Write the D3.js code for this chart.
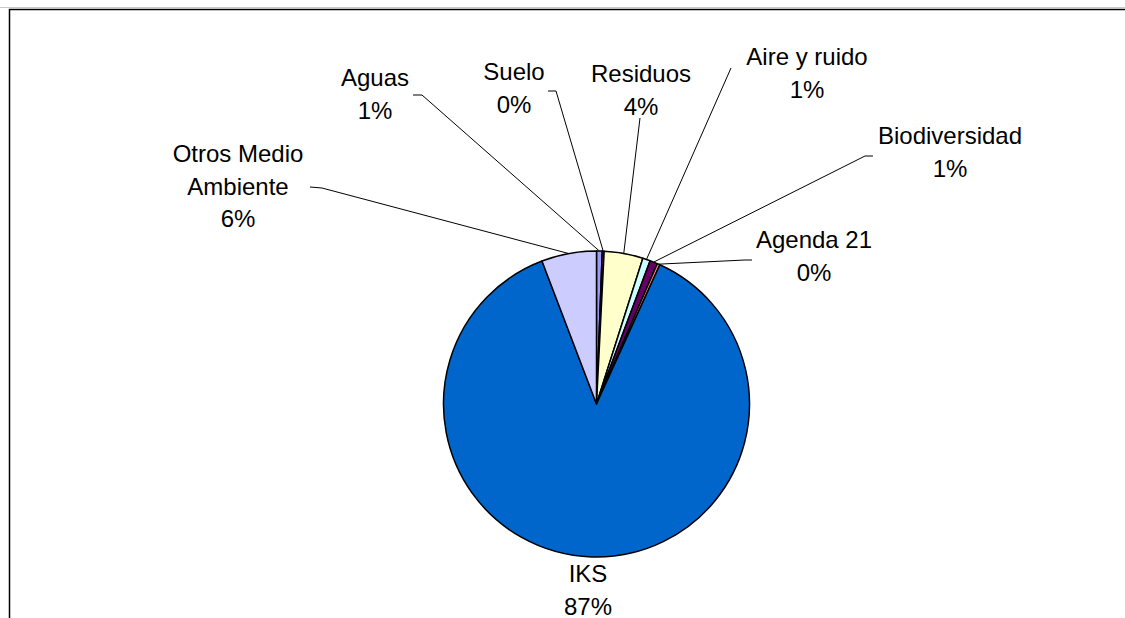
<!DOCTYPE html>
<html>
<head>
<meta charset="utf-8">
<script src="https://cdn.jsdelivr.net/npm/d3@7"></script>
<style>
  html, body { margin: 0; padding: 0; background: #fff; overflow: hidden; }
  text { font-family: "Liberation Sans", Arial, sans-serif; font-size: 24px; fill: #000; }
</style>
</head>
<body>
<div id="chart"></div>
<script>
// data, in Excel series order (first slice starts at 12 o'clock, clockwise)
const categories = ["Aguas", "Suelo", "Residuos", "Aire y ruido", "Biodiversidad", "Agenda 21", "IKS", "Otros Medio Ambiente"];
const values = [0.6, 0.2, 4.1, 0.8, 0.8, 0.3, 87.4, 5.8];
const colors = ["#9999FF", "#993366", "#FFFFCC", "#CCFFFF", "#660066", "#FF8080", "#0066CC", "#CCCCFF"];
// label text lines (percentage line is added below)
const labelLines = [["Aguas"], ["Suelo"], ["Residuos"], ["Aire y ruido"], ["Biodiversidad"], ["Agenda 21"], ["IKS"], ["Otros Medio", "Ambiente"]];

var width = 1125, height = 618;
var cx = 596.5, cy = 404, radius = 153;
var lineH = 32.5;

// label placement: text centre x, first baseline y, leader line end points (label side)
var layout = [
  {x: 375, y: 86,  leader: [[422, 95], [413, 95]]},
  {x: 514, y: 80,  leader: [[556, 91], [548, 91]]},
  {x: 641, y: 82,  leader: [[640, 118]]},
  {x: 807, y: 65,  leader: [[731, 68]]},
  {x: 950, y: 144, leader: [[865, 156], [873, 156]]},
  {x: 814, y: 248, leader: [[745, 260], [752, 260]]},
  {x: 588, y: 582, leader: null},
  {x: 238, y: 162, leader: [[322, 188], [310, 187]]}
];

var dataset = categories.map(function(c, i) {
  return {label: c, value: values[i], color: colors[i], lines: labelLines[i], pos: layout[i]};
});
var total = d3.sum(values);
var fmt = d3.format(".0%");

var svg = d3.select('#chart')
  .append('svg')
  .attr('width', width)
  .attr('height', height);

// outer frame
svg.append('line')
  .attr('x1', 0).attr('x2', width).attr('y1', 7.5).attr('y2', 7.5)
  .attr('stroke', '#c8c8c8').attr('stroke-width', 1);
svg.append('path')
  .attr('d', 'M9.5,' + height + 'V9.5H' + width)
  .attr('fill', 'none').attr('stroke', '#000').attr('stroke-width', 1.5);

var pie = d3.pie()
  .value(function(d) { return d.value; })
  .sort(null)
  .startAngle(0)
  .endAngle(2 * Math.PI);

var arc = d3.arc().innerRadius(0).outerRadius(radius);
var edge = d3.arc().innerRadius(radius).outerRadius(radius);

var g = svg.append('g')
  .attr('transform', 'translate(' + cx + ',' + cy + ')');

var arcs = pie(dataset);

g.selectAll('path.slice')
  .data(arcs)
  .enter()
  .append('path')
  .attr('class', 'slice')
  .attr('d', arc)
  .attr('fill', function(d) { return d.data.color; })
  .attr('stroke', '#000')
  .attr('stroke-width', 1.5)
  .attr('stroke-linejoin', 'round');

// leader lines
var line = d3.line();
svg.selectAll('path.leader')
  .data(arcs.filter(function(d) { return d.data.pos.leader; }))
  .enter()
  .append('path')
  .attr('class', 'leader')
  .attr('fill', 'none')
  .attr('stroke', '#000')
  .attr('stroke-width', 1)
  .attr('d', function(d) {
    var c = edge.centroid(d);
    var pts = [[cx + c[0], cy + c[1]]].concat(d.data.pos.leader);
    return line(pts);
  });

// labels
var labels = svg.selectAll('text.label')
  .data(arcs)
  .enter()
  .append('text')
  .attr('class', 'label')
  .attr('text-anchor', 'middle');

labels.each(function(d) {
  var t = d3.select(this);
  var lines = d.data.lines.concat([fmt(d.data.value / total)]);
  lines.forEach(function(s, i) {
    t.append('tspan')
      .attr('x', d.data.pos.x)
      .attr('y', d.data.pos.y + i * lineH)
      .text(s);
  });
});
</script>
</body>
</html>
